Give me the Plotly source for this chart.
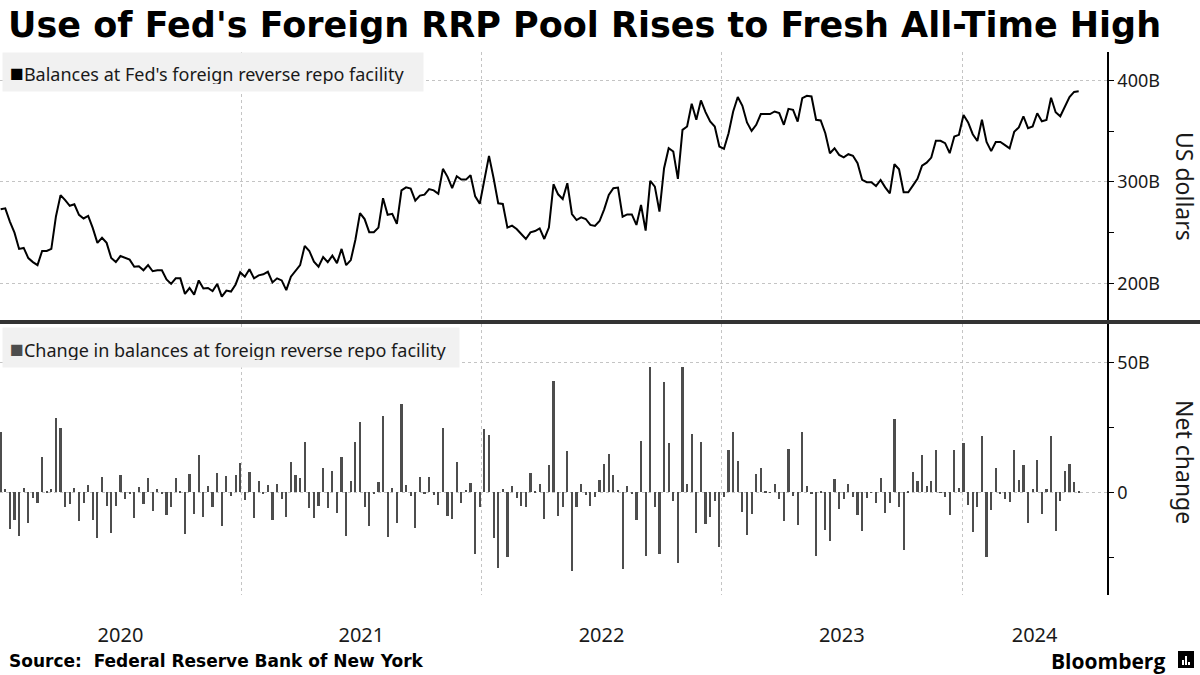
import pandas as pd
import plotly.graph_objects as go

# weekly Wednesday observations, first and last week shown
first_week = "2020-01-01"
last_week = "2024-06-26"

# balances at Fed's foreign reverse repo facility, $B
bal_2020 = [273, 274, 261, 250, 234, 235, 225, 221, 218, 232, 232, 234, 266, 287, 282, 276.5,
            278, 267.6, 264, 266.6, 254.5, 240, 245, 240, 225, 221, 227, 225, 223.5, 216.5,
            217, 213, 218, 212, 213, 213, 204, 199.6, 205, 205, 189.7, 195.5, 189, 203, 195,
            195.5, 192.5, 199.5, 187, 193, 192, 199, 211]
bal_2021 = [206.6, 214, 205, 208, 209, 211.5, 201, 205, 203, 193.4, 206.6, 212, 218, 237, 232,
            221.5, 216.5, 226, 221, 227.4, 220, 234, 218, 223, 243, 269.3, 263.4, 250.5, 250.5,
            255, 284, 267.7, 268.6, 258.7, 291.7, 294.7, 293.4, 281.5, 286.5, 287.5, 293,
            291.7, 288.4, 312.9, 305, 294, 305.6, 302.3, 302.3, 306.6, 285.8, 278.5]
bal_2022 = [302, 325.7, 303.6, 279, 278.3, 255, 257, 253.6, 248.7, 243.8, 250.3, 251.6, 254.3,
            243.8, 255, 297.7, 287.8, 283.2, 298.7, 268.4, 262.5, 265.1, 263.5, 257.6, 256.6,
            261.5, 273, 287.2, 293.8, 294.4, 265.8, 268, 268, 257.6, 277.3, 252, 301, 295.4,
            270.7, 313.5, 333.2, 330, 303, 351.3, 354.6, 377, 361.2, 380.3, 368.8, 359.5,
            354.6, 334.9]
bal_2023 = [332.6, 348, 369.4, 383.6, 375, 358.6, 350.3, 356.3, 366.8, 366.8, 366.8, 369.4,
            367.8, 356.3, 372, 371, 359.5, 382.6, 384.9, 384.2, 361.2, 360.5, 348, 328.3, 333.2,
            326.6, 324.3, 327.3, 325.7, 318.4, 302, 299.7, 299.7, 296, 302, 294.7, 288.8, 317.4,
            312.5, 289.8, 289.8, 296.4, 303, 316, 319, 324, 340.5, 340.5, 338.2, 328.3, 344.7,
            346.4]
bal_2024 = [366, 358.7, 347, 340.3, 361.3, 339.3, 330.3, 339.3, 339.3, 336.3, 333, 349.3, 353.7,
            364.7, 353, 354.7, 367.7, 359.7, 361, 383, 368.7, 364.7, 374.7, 383.7, 388.7, 389.3]

# weekly change in balances, $B
chg_2020 = [23.4, 1.3, -14, -10.7, -17, 1.7, -12, -2, -4, 13.8, 0.3, 1.3, 28.6, 25, -5.8, -4.5,
            1.7, -11.2, -3.9, 3, -10.7, -17.6, 6, -5.4, -15.8, -5.4, 6.8, -2.6, -0.6, -9.7, 2,
            -4.5, 5.5, -7, 1.3, -0.3, -8.7, -5.8, 5.5, 0.2, -16, 7, -8.4, 14.5, -9.3, 2.6, -5.8,
            7.5, -12.9, 6.4, -1.3, 6.8, 11.3]
chg_2021 = [-3, 7.7, -9.7, 4.5, -0.6, 3, -10.7, 3.2, -2.6, -9.4, 11.8, 6.8, 5.4, 19.3, -6.2,
            -9.7, -5.4, 9.3, -6.2, 8.4, -8.1, 13.8, -16.7, 4.5, 19.6, 27, -5.5, -12.9, -0.4, 4.1,
            29.6, -17.4, 1.7, -12, 34, 3, -1.3, -13.8, 5.8, -0.3, 6, -0.9, -4.8, 25, -9, -10.3,
            11.6, -4.2, 1, 3.5, -23.6, -5.5]
chg_2022 = [24.5, 22.3, -17.6, -29, 1.5, -24.9, 2.4, -2.3, -5.1, -5.5, 7.3, 0.5, 3.4, -10.3,
            10.5, 43, -9, -5.5, 15.9, -30.4, -5.7, 3.1, -1, -5.1, -1.9, 4.7, 11.1, 14.9, 6.6, 0.9,
            -29.7, 2.4, -0.3, -10.8, 20, -24.4, 48.3, -5.5, -23.7, 42.6, 19.1, -3.2, -27.2, 48.3,
            3.4, 22.6, -15.7, 19.6, -12.2, -9.3, -3.2, -21.2]
chg_2023 = [-1.7, 16.2, 23.2, 12, -7.4, -16.6, -8.4, 7, 9.4, 0.3, -0.2, 3.2, -2.6, -11.2, 16.6,
            -1.4, -12.5, 23.5, 2.4, -0.3, -24.6, 0.2, -14.4, -18.6, 5.1, -6.4, -2.6, 3.4, -1.7,
            -8.7, -15, -2, -0.2, -4, 5.6, -7.8, -4, 28.3, -5.5, -22.3, 0.2, 7.7, 4.3, 14.5, 2.4,
            4.3, 16.2, -0.2, -1.7, -8.9, 16.2, 1.8]
chg_2024 = [19.2, -4.8, -15.2, -5.7, 21.8, -25.1, -6.7, 9.5, -0.6, -2.6, -3.8, 16.2, 4.9, 10.4,
            -11.7, 1.4, 12.7, -8.3, 1.4, 21.8, -14.8, -3.5, 8.4, 11.1, 3.9, 0.3]

year_labels = ["2020", "2021", "2022", "2023", "2024"]
year_label_pos = ["2020-07-01", "2021-07-02", "2022-07-02", "2023-07-02", "2024-04-20"]
year_starts = ["2021-01-01", "2022-01-01", "2023-01-01", "2024-01-01"]

dates = pd.date_range(first_week, last_week, freq="W-WED")
balances = bal_2020 + bal_2021 + bal_2022 + bal_2023 + bal_2024
changes = chg_2020 + chg_2021 + chg_2022 + chg_2023 + chg_2024

# pixel helpers for the 1200x675 canvas (plot area: x 0..1107, y 52..595)
W, H = 1200, 675
L, R, T, B = 0, 93, 52, 80
PW, PH = W - L - R, H - T - B


def px(x):
    return (x - L) / PW


def py(y):
    return (H - B - y) / PH


GRID = "#c4c4c4"
TXT = "#1a1a1a"
FONT = "Noto Sans"

fig = go.Figure()
fig.add_trace(go.Scatter(x=dates, y=balances, mode="lines",
                         line=dict(color="black", width=2), yaxis="y", hoverinfo="skip"))
fig.add_trace(go.Bar(x=dates, y=changes, yaxis="y2", marker_color="#4d4d4d",
                     marker_line_width=0, width=3.3 * 86400000, hoverinfo="skip"))

fig.update_layout(
    width=W, height=H,
    margin=dict(l=L, r=R, t=T, b=B),
    paper_bgcolor="white", plot_bgcolor="white",
    showlegend=False,
    font=dict(family=FONT, color=TXT),
    xaxis=dict(
        type="date", range=["2019-12-31", "2024-08-08"], anchor="y2",
        tickvals=year_label_pos, ticktext=year_labels,
        ticks="outside", ticklen=22, tickcolor="rgba(0,0,0,0)",
        tickfont=dict(size=20, color=TXT),
        showgrid=False, zeroline=False, showline=False,
        minor=dict(tickvals=year_starts, showgrid=True, gridcolor=GRID,
                   griddash="dot", gridwidth=1, ticks=""),
    ),
    yaxis=dict(
        domain=[py(321), 1], side="right", anchor="x", range=[163, 428],
        tickvals=[200, 300, 400], ticktext=["200B", "300B", "400B"],
        tickfont=dict(size=18, color=TXT),
        ticks="outside", ticklen=5, tickcolor="black",
        showgrid=True, gridcolor=GRID, griddash="dot", zeroline=False,
        showline=True, linecolor="black", linewidth=1.5,
        minor=dict(tickvals=[250, 350], ticks="outside", ticklen=5, tickcolor="black",
                   showgrid=False),
    ),
    yaxis2=dict(
        domain=[0, py(324)], side="right", anchor="x", range=[-39.6, 65],
        tickvals=[0, 50], ticktext=["0", "50B"],
        tickfont=dict(size=18, color=TXT),
        ticks="outside", ticklen=5, tickcolor="black",
        showgrid=True, gridcolor=GRID, griddash="dot", zeroline=False,
        showline=True, linecolor="black", linewidth=1.5,
        minor=dict(tickvals=[-25, 25], ticks="outside", ticklen=5, tickcolor="black",
                   showgrid=False),
    ),
    bargap=0,
)

# panel divider
fig.add_shape(type="line", xref="paper", yref="paper", x0=px(0), x1=px(W),
              y0=py(322), y1=py(322), line=dict(color="#333333", width=4))

# legend-like labels
fig.add_annotation(xref="paper", yref="paper", x=px(2), y=py(52), xanchor="left", yanchor="top",
                   text="<span style='color:#000000;font-size:23px'>■</span>Balances at Fed's foreign reverse repo facility",
                   showarrow=False, align="left", bgcolor="#f1f1f1", borderpad=7,
                   width=406, height=24, font=dict(size=18, color=TXT))
fig.add_annotation(xref="paper", yref="paper", x=px(2), y=py(327), xanchor="left", yanchor="top",
                   text="<span style='color:#4d4d4d;font-size:23px'>■</span>Change in balances at foreign reverse repo facility",
                   showarrow=False, align="left", bgcolor="#f1f1f1", borderpad=7,
                   width=442, height=25, font=dict(size=18, color=TXT))

# axis titles
fig.add_annotation(xref="paper", yref="paper", x=px(1185), y=py(186), text="US dollars",
                   xanchor="center", yanchor="middle",
                   textangle=90, showarrow=False, font=dict(size=23, color=TXT))
fig.add_annotation(xref="paper", yref="paper", x=px(1185), y=py(462), text="Net change",
                   xanchor="center", yanchor="middle",
                   textangle=90, showarrow=False, font=dict(size=23, color=TXT))

# title and footer
fig.add_annotation(xref="paper", yref="paper", x=px(6), y=py(25), xanchor="left", yanchor="middle",
                   text="<b>Use of Fed's Foreign RRP Pool Rises to Fresh All-Time High</b>",
                   showarrow=False, font=dict(family="DejaVu Sans", size=35, color="black"))
fig.add_annotation(xref="paper", yref="paper", x=px(7), y=py(661), xanchor="left", yanchor="middle",
                   text="<b>Source:  Federal Reserve Bank of New York</b>",
                   showarrow=False, font=dict(family="DejaVu Sans", size=17, color="black"))
fig.add_annotation(xref="paper", yref="paper", x=px(1167), y=py(661), xanchor="right", yanchor="middle",
                   text="<b>Bloomberg</b>", showarrow=False,
                   font=dict(family="Open Sans", size=21, color="black"))
fig.add_shape(type="rect", xref="paper", yref="paper", x0=px(1178), x1=px(1194),
              y0=py(668), y1=py(651), fillcolor="black", line=dict(width=0))
for bx, top in [(1183, 660), (1186, 656), (1189, 662)]:
    fig.add_shape(type="line", xref="paper", yref="paper", x0=px(bx), x1=px(bx),
                  y0=py(665), y1=py(top), line=dict(color="white", width=2))

# drop the browser's default body margin so the 1200x675 figure fills the window
fig.write_html("out.html", config={"displayModeBar": False},
               post_script="document.body.style.margin='0';document.body.style.overflow='hidden';")
